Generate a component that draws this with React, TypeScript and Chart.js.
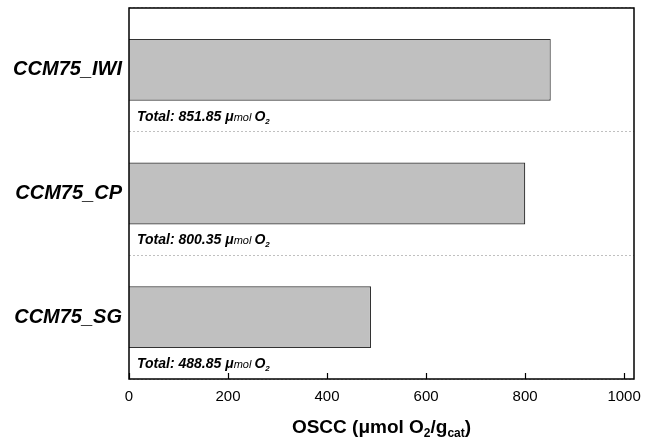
import React, { useEffect, useRef } from "react";
import { Chart, registerables } from "chart.js";

Chart.register(...registerables);

const categories = ["CCM75_IWI", "CCM75_CP", "CCM75_SG"];
const values = [851.85, 800.35, 488.85];
const totalLabels = ["851.85", "800.35", "488.85"];
const xTicks = [0, 200, 400, 600, 800, 1000];

const FONT = "'Liberation Sans', Arial, sans-serif";

const decorPlugin = {
  id: "decor",
  afterDatasetsDraw(chart: any) {
    const ctx = chart.ctx;
    const { left, right, top, bottom } = chart.chartArea;
    const xs = chart.scales.x;
    ctx.save();
    // inner ticks on bottom axis
    ctx.strokeStyle = "#000";
    ctx.lineWidth = 1.2;
    xTicks.forEach((t) => {
      const px = Math.round(xs.getPixelForValue(t)) + 0.5;
      ctx.beginPath();
      ctx.moveTo(px, bottom);
      ctx.lineTo(px, bottom - 6);
      ctx.stroke();
    });
    // frame
    ctx.lineWidth = 1.5;
    ctx.strokeRect(left, top, right - left, bottom - top);

    // annotations
    const meta = chart.getDatasetMeta(0);
    meta.data.forEach((bar: any, i: number) => {
      const y = bar.y + bar.height / 2 + 20;
      let x = left + 8;
      ctx.fillStyle = "#000";
      ctx.textBaseline = "alphabetic";
      ctx.textAlign = "left";
      const parts: [string, string, number][] = [
        ["Total: " + totalLabels[i] + " ", "italic bold 14px " + FONT, 0],
        ["\u03BC", "italic bold 14px " + FONT, 0],
        ["mol ", "italic 11px " + FONT, 0],
        ["O", "italic bold 14px " + FONT, 0],
        ["2", "italic bold 8px " + FONT, 3],
      ];
      parts.forEach(([s, f, dy]) => {
        ctx.font = f;
        ctx.fillText(s, x, y + dy);
        x += ctx.measureText(s).width;
      });
    });

    // x axis title with subscripts
    const tparts: [string, string, number][] = [
      ["OSCC (\u03BCmol O", "bold 19px " + FONT, 0],
      ["2", "bold 12px " + FONT, 4],
      ["/g", "bold 19px " + FONT, 0],
      ["cat", "bold 12px " + FONT, 4],
      [")", "bold 19px " + FONT, 0],
    ];
    let total = 0;
    tparts.forEach(([s, f]) => {
      ctx.font = f;
      total += ctx.measureText(s).width;
    });
    let tx = (left + right) / 2 - total / 2;
    const ty = 433;
    tparts.forEach(([s, f, dy]) => {
      ctx.font = f;
      ctx.fillText(s, tx, ty + dy);
      tx += ctx.measureText(s).width;
    });
    ctx.restore();
  },
};

export default function App() {
  const ref = useRef<HTMLCanvasElement>(null);
  useEffect(() => {
    document.body.style.margin = "0";
    const chart = new Chart(ref.current!, {
      type: "bar",
      data: {
        labels: categories,
        datasets: [
          {
            data: values,
            backgroundColor: "#c0c0c0",
            borderColor: "#333333",
            borderWidth: 1.2,
            barPercentage: 0.5,
            categoryPercentage: 1,
          },
        ],
      },
      options: {
        indexAxis: "y",
        animation: false,
        responsive: false,
        devicePixelRatio: 1,
        layout: { padding: { top: 8, right: 19, left: 0, bottom: 0 } },
        plugins: {
          legend: { display: false },
          tooltip: { enabled: false },
        },
        scales: {
          x: {
            min: 0,
            max: 1020,
            afterBuildTicks: (s: any) => {
              s.ticks = xTicks.map((v) => ({ value: v }));
            },
            afterFit: (s: any) => {
              s.height = 62;
              s.paddingLeft = 0;
              s.paddingRight = 0;
            },
            grid: { display: false, drawTicks: false },
            border: { display: false },
            ticks: {
              color: "#000",
              padding: 9,
              maxRotation: 0,
              font: { family: FONT, size: 15 },
              callback: (v: any) => String(v),
            },
          },
          y: {
            afterFit: (s: any) => {
              s.width = 129;
              s.paddingTop = 0;
              s.paddingBottom = 0;
            },
            grid: {
              display: true,
              offset: true,
              color: "#c0c0c0",
              lineWidth: 1,
              drawTicks: false,
            },
            border: { display: false, dash: [2, 2] },
            ticks: {
              color: "#000",
              padding: 7,
              font: { family: FONT, size: 20, style: "italic", weight: "bold" },
            },
          },
        },
      },
      plugins: [decorPlugin],
    });
    return () => chart.destroy();
  }, []);
  return <canvas ref={ref} width={653} height={441} style={{ display: "block" }} />;
}
